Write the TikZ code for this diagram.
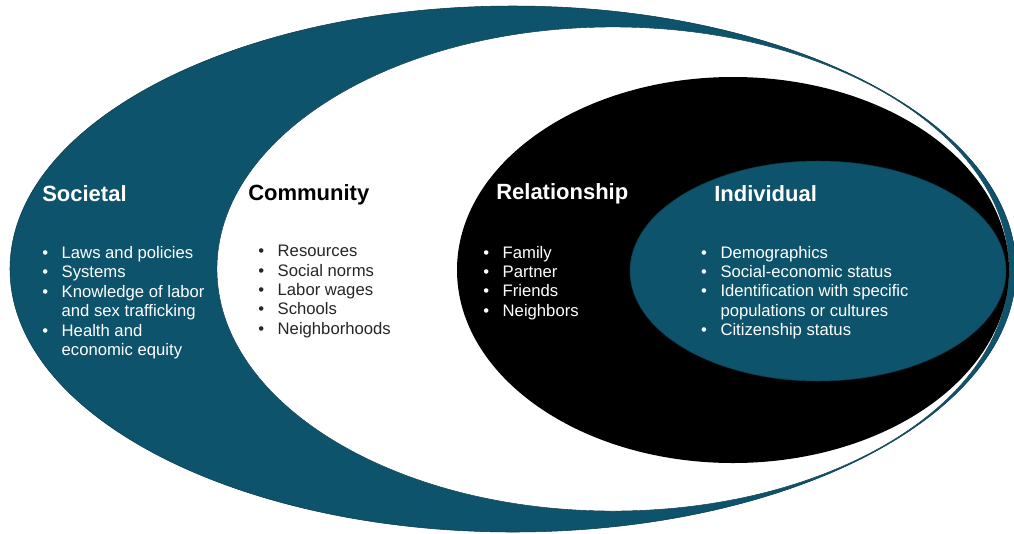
\documentclass[tikz,border=0pt]{standalone}
\usepackage{fontspec}
\setmainfont{Liberation Sans}
\definecolor{petrol}{RGB}{14,83,108}
\newcommand{\blist}[1]{\begin{tabular}[t]{@{}l@{\hspace{10.2pt}}l@{}}#1\end{tabular}}

\begin{document}
\begin{tikzpicture}[x=0.75pt,y=-0.75pt,
  title/.style={font=\bfseries\fontsize{16.5}{19}\selectfont,anchor=base west,inner sep=0pt},
  items/.style={font=\fontsize{12.5}{14.55}\selectfont,anchor=base west,inner sep=0pt}]

\useasboundingbox (0,0) rectangle (1014,533);
\clip (0,0) rectangle (1014,533);

% the four rings, from outside in
\fill[petrol,draw=petrol!70!black,line width=.4pt] (513,269) ellipse [x radius=503,y radius=263];
\fill[white,draw=petrol!60!black,line width=.3pt] (613,269) ellipse [x radius=396,y radius=242];
\fill[black] (733,270) ellipse [x radius=276,y radius=193];
\fill[petrol,draw=petrol!70!black,line width=.4pt] (818,271) ellipse [x radius=188,y radius=110];

% Societal
\node[title,white] (societal) at (42,201) {Societal};
\node[items,white] (societalList) at (42,258.5) {\blist{%
  \textbullet & Laws and policies\\
  \textbullet & Systems\\
  \textbullet & Knowledge of labor\\
              & and sex trafficking\\
  \textbullet & Health and\\
              & economic equity}};

% Community
\node[title,black] (community) at (248,200) {Community};
\node[items,black!85] (communityList) at (258,256.7) {\blist{%
  \textbullet & Resources\\
  \textbullet & Social norms\\
  \textbullet & Labor wages\\
  \textbullet & Schools\\
  \textbullet & Neighborhoods}};

% Relationship
\node[title,white] (relationship) at (496,199) {Relationship};
\node[items,white] (relationshipList) at (483,258) {\blist{%
  \textbullet & Family\\
  \textbullet & Partner\\
  \textbullet & Friends\\
  \textbullet & Neighbors}};

% Individual
\node[title,white] (individual) at (714,201) {Individual};
\node[items,white] (individualList) at (700.8,258) {\blist{%
  \textbullet & Demographics\\
  \textbullet & Social-economic status\\
  \textbullet & Identification with specific\\
              & populations or cultures\\
  \textbullet & Citizenship status}};

\end{tikzpicture}
\end{document}
